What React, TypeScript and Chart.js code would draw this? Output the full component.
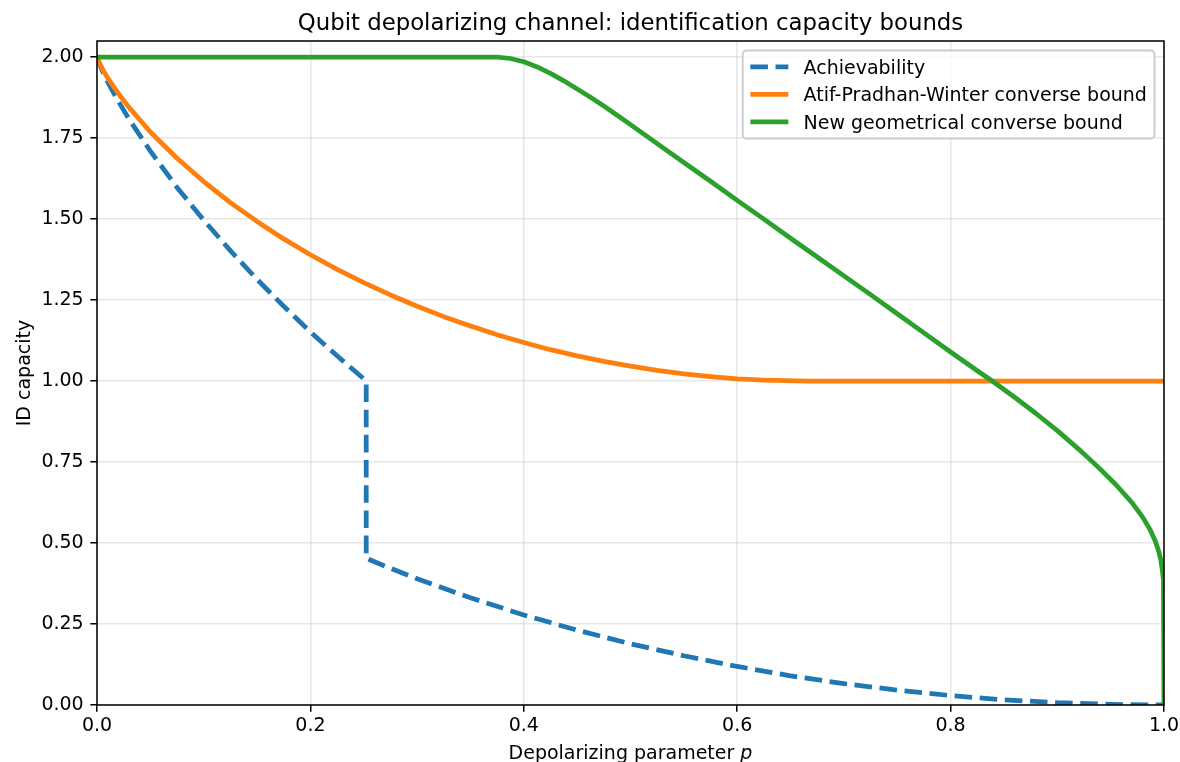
import React, { useEffect, useRef } from 'react';
import { Chart, registerables } from 'chart.js';

Chart.register(...registerables);

// ---------- data ----------
const achP = [0, 0.0015, 0.005, 0.01, 0.02, 0.03, 0.05, 0.075, 0.1, 0.125, 0.15, 0.175, 0.2, 0.225, 0.25, 0.2523, 0.2523, 0.275, 0.3, 0.35, 0.4, 0.45, 0.5, 0.55, 0.6, 0.65, 0.7, 0.75, 0.8, 0.85, 0.9, 0.95, 1.0];
const achV = [2.0, 1.986, 1.958, 1.924, 1.864, 1.809, 1.710, 1.598, 1.497, 1.403, 1.314, 1.231, 1.152, 1.078, 1.007, 1.0, 0.453, 0.422, 0.390, 0.331, 0.278, 0.231, 0.189, 0.152, 0.119, 0.090, 0.066, 0.046, 0.029, 0.016, 0.007, 0.002, 0.0];

const apwP = [0, 0.0015, 0.005, 0.01, 0.02, 0.03, 0.05, 0.075, 0.1, 0.125, 0.15, 0.175, 0.2, 0.225, 0.25, 0.275, 0.3, 0.325, 0.35, 0.375, 0.4, 0.425, 0.45, 0.475, 0.5, 0.525, 0.55, 0.575, 0.6, 0.625, 0.6667, 1.0];
const apwV = [2.0, 1.987, 1.964, 1.936, 1.888, 1.845, 1.769, 1.688, 1.616, 1.551, 1.493, 1.439, 1.390, 1.345, 1.304, 1.266, 1.231, 1.199, 1.170, 1.143, 1.119, 1.097, 1.078, 1.061, 1.046, 1.033, 1.022, 1.014, 1.007, 1.003, 1.0, 1.0];

const geoP = [0, 0.375, 0.3875, 0.4, 0.4125, 0.425, 0.4375, 0.45, 0.4625, 0.475, 0.4875, 0.5, 0.525, 0.55, 0.575, 0.6, 0.625, 0.65, 0.675, 0.7, 0.725, 0.75, 0.775, 0.8, 0.825, 0.84, 0.86, 0.88, 0.9, 0.92, 0.94, 0.955, 0.97, 0.98, 0.987, 0.992, 0.995, 0.997, 0.9985, 0.9995, 1.0];
const geoV = [2.0, 2.0, 1.996, 1.986, 1.970, 1.950, 1.927, 1.902, 1.876, 1.849, 1.821, 1.792, 1.733, 1.675, 1.617, 1.558, 1.500, 1.441, 1.383, 1.325, 1.267, 1.208, 1.149, 1.090, 1.032, 0.998, 0.950, 0.900, 0.847, 0.790, 0.729, 0.680, 0.625, 0.580, 0.541, 0.505, 0.475, 0.448, 0.415, 0.385, 0.0];

const seriesLabels = ['Achievability', 'Atif-Pradhan-Winter converse bound', 'New geometrical converse bound'];
const seriesColors = ['#1f77b4', '#ff7f0e', '#2ca02c'];

const xTickValues = [0, 0.2, 0.4, 0.6, 0.8, 1.0];
const xTickLabels = ['0.0', '0.2', '0.4', '0.6', '0.8', '1.0'];
const yTickValues = [0, 0.25, 0.5, 0.75, 1.0, 1.25, 1.5, 1.75, 2.0];
const yTickLabels = ['0.00', '0.25', '0.50', '0.75', '1.00', '1.25', '1.50', '1.75', '2.00'];

const titleText = 'Qubit depolarizing channel: identification capacity bounds';
const xLabelText = 'Depolarizing parameter ';
const xLabelVar = 'p';
const yLabelText = 'ID capacity';

// ---------- styles ----------
const FONT = '"DejaVu Sans"';
const PT = 1.9;
const LW = 2.5 * PT;

const toXY = (ps: number[], vs: number[]) => ps.map((p, i) => ({ x: p, y: vs[i] }));

const decorPlugin = {
  id: 'decor',
  afterDatasetsDraw(chart: any) {
    const { ctx, chartArea: a } = chart;
    ctx.save();
    // spines
    ctx.strokeStyle = '#000';
    ctx.lineWidth = 0.8 * PT;
    ctx.setLineDash([]);
    ctx.strokeRect(a.left, a.top, a.right - a.left, a.bottom - a.top);

    // legend
    const fs = 10 * PT;
    const pad = 0.4 * fs;
    const handleLen = 2 * fs;
    const handlePad = 0.8 * fs;
    const rowH = 27.5;
    ctx.font = `${fs}px ${FONT}`;
    const dsets = chart.data.datasets;
    const maxW = Math.max(...dsets.map((d: any) => ctx.measureText(d.label).width));
    const right = a.right - 0.5 * fs;
    const top = a.top + 0.5 * fs;
    const w = pad + handleLen + handlePad + maxW + pad;
    const left = right - w;
    const h = 88;
    ctx.beginPath();
    ctx.roundRect(left, top, w, h, 0.2 * fs);
    ctx.fillStyle = 'rgba(255,255,255,0.8)';
    ctx.fill();
    ctx.strokeStyle = '#cccccc';
    ctx.lineWidth = 1 * PT;
    ctx.stroke();
    dsets.forEach((d: any, i: number) => {
      const y = top + 16.3 + i * rowH;
      ctx.beginPath();
      ctx.setLineDash(d.borderDash || []);
      ctx.strokeStyle = d.borderColor;
      ctx.lineWidth = d.borderWidth;
      ctx.lineCap = 'butt';
      ctx.moveTo(left + pad, y);
      ctx.lineTo(left + pad + handleLen, y);
      ctx.stroke();
      ctx.setLineDash([]);
      ctx.fillStyle = '#000';
      ctx.textAlign = 'left';
      ctx.textBaseline = 'alphabetic';
      ctx.fillText(d.label, left + pad + handleLen + handlePad, y + 6.7);
    });
    ctx.restore();
  },
  afterDraw(chart: any) {
    const { ctx, chartArea: a } = chart;
    const cx = (a.left + a.right) / 2;
    ctx.save();
    ctx.fillStyle = '#000';
    ctx.textBaseline = 'alphabetic';
    // title
    ctx.font = `${12 * PT}px ${FONT}`;
    ctx.textAlign = 'center';
    ctx.fillText(titleText, cx, a.top - 6 * PT);
    // x label with italic p
    const fs = 10 * PT;
    ctx.font = `${fs}px ${FONT}`;
    const w1 = ctx.measureText(xLabelText).width;
    ctx.font = `italic ${fs}px ${FONT}`;
    const w2 = ctx.measureText(xLabelVar).width;
    const x0 = cx - (w1 + w2) / 2;
    const yb = 758.7;
    ctx.textAlign = 'left';
    ctx.font = `${fs}px ${FONT}`;
    ctx.fillText(xLabelText, x0, yb);
    ctx.font = `italic ${fs}px ${FONT}`;
    ctx.fillText(xLabelVar, x0 + w1, yb);
    // y label
    ctx.font = `${fs}px ${FONT}`;
    ctx.translate(29.9, (a.top + a.bottom) / 2);
    ctx.rotate(-Math.PI / 2);
    ctx.textAlign = 'center';
    ctx.fillText(yLabelText, 0, 0);
    ctx.restore();
  },
};

export default function App() {
  const ref = useRef<HTMLCanvasElement | null>(null);

  useEffect(() => {
    const canvas = ref.current;
    if (!canvas) return;
    const common = {
      pointRadius: 0,
      pointHoverRadius: 0,
      borderWidth: LW,
      tension: 0,
      fill: false,
      clip: 0,
      borderJoinStyle: 'round' as const,
    };
    const chart = new Chart(canvas, {
      type: 'line',
      data: {
        datasets: [
          { ...common, label: seriesLabels[0], data: toXY(achP, achV), borderColor: seriesColors[0], backgroundColor: seriesColors[0], borderDash: [3.7 * LW, 1.6 * LW], order: 3 },
          { ...common, label: seriesLabels[1], data: toXY(apwP, apwV), borderColor: seriesColors[1], backgroundColor: seriesColors[1], order: 2 },
          { ...common, label: seriesLabels[2], data: toXY(geoP, geoV), borderColor: seriesColors[2], backgroundColor: seriesColors[2], order: 1 },
        ],
      },
      options: {
        responsive: false,
        devicePixelRatio: 1,
        animation: false,
        events: [],
        layout: { padding: { top: 41, right: 16, left: 0, bottom: 0 } },
        plugins: {
          legend: { display: false },
          title: { display: false },
          tooltip: { enabled: false },
        },
        scales: {
          x: {
            type: 'linear',
            min: 0,
            max: 1,
            afterFit: (s: any) => { s.height = 57; s.paddingLeft = 0; s.paddingRight = 0; },
            afterBuildTicks: (s: any) => { s.ticks = xTickValues.map((v) => ({ value: v })); },
            ticks: {
              callback: (_v: any, i: number) => xTickLabels[i],
              font: { family: 'DejaVu Sans', size: 10 * PT },
              color: '#000',
              padding: 3.5,
              maxRotation: 0,
              autoSkip: false,
            },
            grid: {
              color: 'rgba(176,176,176,0.3)',
              lineWidth: 0.8 * PT,
              tickColor: '#000',
              tickWidth: 0.8 * PT,
              tickLength: 3.5 * PT,
            },
            border: { display: false },
          },
          y: {
            type: 'linear',
            min: 0,
            max: 2.05,
            afterFit: (s: any) => { s.width = 97; s.paddingTop = 0; s.paddingBottom = 0; },
            afterBuildTicks: (s: any) => { s.ticks = yTickValues.map((v) => ({ value: v })); },
            ticks: {
              callback: (_v: any, i: number) => yTickLabels[i],
              font: { family: 'DejaVu Sans', size: 10 * PT },
              color: '#000',
              padding: 3.5 * PT,
              autoSkip: false,
            },
            grid: {
              color: 'rgba(176,176,176,0.3)',
              lineWidth: 0.8 * PT,
              tickColor: '#000',
              tickWidth: 0.8 * PT,
              tickLength: 3.5 * PT,
            },
            border: { display: false },
          },
        },
      },
      plugins: [decorPlugin],
    } as any);
    return () => chart.destroy();
  }, []);

  return (
    <div style={{ position: 'absolute', left: 0, top: 0, width: 1180, height: 762, background: '#fff' }}>
      <canvas ref={ref} width={1180} height={762} style={{ display: 'block', width: 1180, height: 762 }} />
    </div>
  );
}
